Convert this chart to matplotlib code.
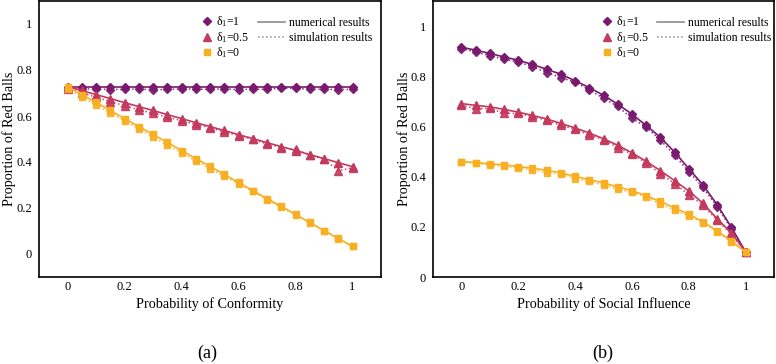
import matplotlib
matplotlib.use('Agg')
import matplotlib.pyplot as plt
from matplotlib.lines import Line2D

plt.rcParams['font.family'] = ['Liberation Serif', 'DejaVu Serif']
plt.rcParams['mathtext.fontset'] = 'custom'
plt.rcParams['mathtext.rm'] = 'Liberation Serif'
plt.rcParams['mathtext.it'] = 'Liberation Serif:italic'

# x values shared by both panels
x = [0, 0.05, 0.1, 0.15, 0.2, 0.25, 0.3, 0.35, 0.4, 0.45, 0.5,
     0.55, 0.6, 0.65, 0.7, 0.75, 0.8, 0.85, 0.9, 0.95, 1]

# panel (a): probability of conformity
a_num_d1 = [0.728] * 21
a_sim_d1 = [0.716, 0.717, 0.718, 0.715, 0.716, 0.718, 0.714, 0.716, 0.718, 0.717, 0.716,
            0.718, 0.715, 0.717, 0.716, 0.722, 0.72, 0.716, 0.717, 0.715, 0.716]
a_num_d05 = [0.728, 0.711, 0.693, 0.676, 0.658, 0.641, 0.624, 0.606, 0.589, 0.571, 0.554,
             0.537, 0.519, 0.502, 0.484, 0.467, 0.450, 0.432, 0.415, 0.397, 0.380]
a_sim_d05 = [0.718, 0.700, 0.682, 0.662, 0.645, 0.627, 0.612, 0.595, 0.580, 0.562, 0.550,
             0.530, 0.515, 0.498, 0.478, 0.462, 0.455, 0.430, 0.413, 0.362, 0.375]
a_num_d0 = [0.728, 0.693, 0.659, 0.624, 0.589, 0.554, 0.520, 0.485, 0.450, 0.415, 0.381,
            0.346, 0.311, 0.276, 0.241, 0.207, 0.172, 0.137, 0.102, 0.068, 0.033]
a_sim_d0 = [0.718, 0.684, 0.648, 0.613, 0.580, 0.545, 0.508, 0.472, 0.440, 0.405, 0.370,
            0.338, 0.305, 0.272, 0.236, 0.203, 0.170, 0.135, 0.100, 0.066, 0.033]

# panel (b): probability of social influence
b_num_d1 = [0.916, 0.904, 0.891, 0.877, 0.864, 0.847, 0.828, 0.808, 0.782, 0.755, 0.724,
            0.689, 0.649, 0.604, 0.557, 0.498, 0.432, 0.367, 0.288, 0.198, 0.100]
b_sim_d1 = [0.910, 0.897, 0.882, 0.868, 0.857, 0.838, 0.815, 0.795, 0.776, 0.746, 0.712,
            0.680, 0.632, 0.598, 0.546, 0.485, 0.420, 0.357, 0.280, 0.192, 0.100]
b_num_d05 = [0.691, 0.684, 0.678, 0.668, 0.657, 0.644, 0.630, 0.612, 0.594, 0.574, 0.551,
             0.525, 0.495, 0.461, 0.424, 0.384, 0.343, 0.294, 0.232, 0.176, 0.100]
b_sim_d05 = [0.686, 0.670, 0.672, 0.652, 0.652, 0.638, 0.625, 0.604, 0.590, 0.565, 0.548,
             0.516, 0.490, 0.455, 0.412, 0.372, 0.328, 0.286, 0.226, 0.170, 0.100]
b_num_d0 = [0.460, 0.456, 0.451, 0.447, 0.440, 0.434, 0.425, 0.415, 0.401, 0.388, 0.375,
            0.359, 0.344, 0.324, 0.301, 0.275, 0.250, 0.220, 0.183, 0.143, 0.100]
b_sim_d0 = [0.458, 0.453, 0.446, 0.442, 0.433, 0.428, 0.416, 0.410, 0.392, 0.382, 0.366,
            0.350, 0.338, 0.318, 0.292, 0.266, 0.243, 0.216, 0.180, 0.140, 0.100]

ticks = [0, 0.2, 0.4, 0.6, 0.8, 1]
tick_labels = ['0', '0.2', '0.4', '0.6', '0.8', '1']

purple = '#7a1a6f'
red = '#c33a5e'
yellow = '#f8b022'
gray = '#8c8c8c'

deltas = ['δ$_1$=1', 'δ$_1$=0.5', 'δ$_1$=0']
styles = [(purple, 'D', 4.4), (red, '^', 5.2), (yellow, 's', 4.3)]


def draw_panel(ax, nums, sims, xlabel, ylim, leg_x1, leg_x2, ylab_x):
    for (c, m, ms), yn, ys in zip(styles, nums, sims):
        ax.plot(x, ys, ':', color=c, lw=1.1, marker=m, ms=ms, alpha=0.9)
        ax.plot(x, yn, '-', color=c, lw=1.2, marker=m, ms=ms)
    ax.set_xlim(-0.1, 1.1)
    ax.set_ylim(*ylim)
    ax.set_xticks(ticks)
    ax.set_xticklabels(tick_labels)
    ax.set_yticks(ticks)
    ax.set_yticklabels(tick_labels)
    ax.tick_params(axis='x', length=0, labelsize=9, pad=3)
    ax.tick_params(axis='y', length=0, labelsize=9, pad=5)
    for s in ax.spines.values():
        s.set_linewidth(1.2)
    ax.set_xlabel(xlabel, fontsize=10.2, labelpad=3)
    ax.set_ylabel('Proportion of Red Balls', fontsize=10.2)
    ax.yaxis.set_label_coords(ylab_x, 0.5)

    mk = [Line2D([], [], ls='none', color=c, marker=m, ms=ms) for c, m, ms in styles]
    leg1 = ax.legend(mk, deltas, loc='upper left', bbox_to_anchor=(leg_x1, 0.951),
                     frameon=False, fontsize=8.5, handlelength=1.0, handletextpad=0.3,
                     borderpad=0, borderaxespad=0, labelspacing=0.05)
    ax.add_artist(leg1)
    ln = [Line2D([], [], ls='-', color=gray, lw=1.2),
          Line2D([], [], ls=':', color=gray, lw=1.1)]
    ax.legend(ln, ['numerical results', 'simulation results'], loc='upper left',
              bbox_to_anchor=(leg_x2, 0.943), frameon=False, fontsize=8.5,
              handlelength=2.3, handletextpad=0.3, borderpad=0, borderaxespad=0,
              labelspacing=0.25)


fig = plt.figure(figsize=(7.76, 3.64), dpi=100)
ax1 = fig.add_axes([39 / 776, 87 / 364, 342 / 776, 276 / 364])
ax2 = fig.add_axes([433 / 776, 87 / 364, 341 / 776, 276 / 364])

draw_panel(ax1, [a_num_d1, a_num_d05, a_num_d0], [a_sim_d1, a_sim_d05, a_sim_d0],
           'Probability of Conformity', (-0.1, 1.1), 0.474, 0.640, -0.068)
draw_panel(ax2, [b_num_d1, b_num_d05, b_num_d0], [b_sim_d1, b_sim_d05, b_sim_d0],
           'Probability of Social Influence', (0, 1.1), 0.493, 0.657, -0.065)

fig.text(207 / 776, 1 - 353 / 364, '(a)', fontsize=13, ha='center', va='center')
fig.text(603 / 776, 1 - 353 / 364, '(b)', fontsize=13, ha='center', va='center')

fig.savefig('out.png', dpi=100)
